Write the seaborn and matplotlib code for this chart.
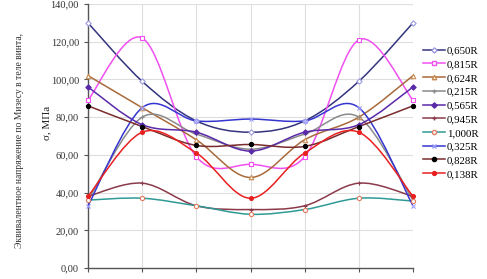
"""
Эквивалентное напряжение по Мизесу в теле винта по радиусам
"""

import numpy as np
import pandas as pd
import matplotlib
matplotlib.use('Agg')
import matplotlib.pyplot as plt
from matplotlib.path import Path
from matplotlib.patches import PathPatch
from matplotlib.lines import Line2D
from matplotlib.ticker import FuncFormatter
import seaborn as sns

# Данные (точки по оси X без подписей)
points = [1, 2, 3, 4, 5, 6, 7]
radii = ['0,650R', '0,815R', '0,624R', '0,215R', '0,565R',
         '0,945R', '1,000R', '0,325R', '0,828R', '0,138R']

s_0650 = [130, 99, 78, 72, 78, 99, 130]
s_0815 = [89, 122, 59, 55, 59, 121, 89]
s_0624 = [102, 85, 68, 48, 68, 80, 102]
s_0215 = [36, 80, 71, 63, 71, 80, 36]
s_0565 = [96, 76, 72, 62, 72, 76, 96]
s_0945 = [38, 45, 33, 31, 33, 45, 38]
s_1000 = [36, 37, 33, 28.5, 31, 37, 35.5]
s_0325 = [33, 85, 78, 79, 78, 85, 33]
s_0828 = [86, 75, 65, 65.5, 64.5, 75, 86]
s_0138 = [38, 72, 61, 37, 61, 72, 38]

values = [s_0650, s_0815, s_0624, s_0215, s_0565,
          s_0945, s_1000, s_0325, s_0828, s_0138]

df = pd.DataFrame({
    'x': points * len(radii),
    'sigma': np.concatenate(values),
    'radius': np.repeat(radii, len(points)),
})

# Стиль серий: цвет линии, маркер, заливка маркера, контур маркера, размер
styles = {
    '0,650R': ('#34347f', 'D', 'white', '#9a9ae0', 2.7),
    '0,815R': ('#f050f0', 's', 'white', '#f050f0', 3.0),
    '0,624R': ('#a86a3a', '^', 'white', '#c88a50', 3.2),
    '0,215R': ('#8a8a8a', '+', '#8a8a8a', '#8a8a8a', 3.2),
    '0,565R': ('#5a2aa8', 'D', '#5a2aa8', '#5a2aa8', 2.7),
    '0,945R': ('#8a3a4a', '+', '#8a3a4a', '#8a3a4a', 3.2),
    '1,000R': ('#2f9a96', 'o', 'white', '#e07a60', 3.0),
    '0,325R': ('#3535d0', 'x', '#9a9aff', '#9a9aff', 3.0),
    '0,828R': ('#7a2c2c', 'o', 'black', 'black', 3.0),
    '0,138R': ('#e82020', 'o', '#e82020', '#e82020', 2.8),
}

plt.rcParams['font.family'] = ['Liberation Serif', 'DejaVu Serif']


def smooth_path(xs, ys):
    # сглаженная линия как в Excel (кривые Безье через точки)
    pts = np.column_stack([xs, ys]).astype(float)
    n = len(pts)
    verts = [pts[0]]
    codes = [Path.MOVETO]
    for i in range(n - 1):
        p0 = pts[i - 1] if i > 0 else pts[i]
        p1 = pts[i]
        p2 = pts[i + 1]
        p3 = pts[i + 2] if i + 2 < n else pts[i + 1]
        verts += [p1 + (p2 - p0) / 6, p2 - (p3 - p1) / 6, p2]
        codes += [Path.CURVE4] * 3
    return Path(verts, codes)


fig = plt.figure(figsize=(4.87, 2.79), dpi=100)
ax = fig.add_axes([88 / 487, 11 / 279, 325 / 487, 264 / 279])
ax.set_facecolor('white')

handles = []
for r in radii:
    sub = df[df['radius'] == r]
    color, marker, face, edge, ms = styles[r]
    ax.add_patch(PathPatch(smooth_path(sub['x'], sub['sigma']), fill=False,
                           edgecolor=color, linewidth=1.1, zorder=3))
    sns.scatterplot(data=sub, x='x', y='sigma', ax=ax, marker=marker,
                    color=face, edgecolor=edge, linewidth=0.8,
                    s=ms ** 2, zorder=4, clip_on=False, legend=False)
    handles.append(Line2D([], [], color=color, linewidth=1.1, marker=marker,
                          markerfacecolor=face, markeredgecolor=edge,
                          markersize=ms))

ax.set_xlim(1, 7)
ax.set_ylim(0, 140)
ax.set_yticks(np.arange(0, 141, 20))
ax.set_xticks(points)
ax.set_xticklabels([])
ax.yaxis.set_major_formatter(FuncFormatter(lambda v, p: f'{v:.2f}'.replace('.', ',')))
ax.tick_params(axis='y', labelsize=7.5, length=3, colors='#555555', labelcolor='#333333')
ax.tick_params(axis='x', length=3, colors='#555555')
ax.grid(True, color='#dedede', linewidth=0.8)
ax.set_axisbelow(True)
ax.set_xlabel('')
ax.set_ylabel('')
for side in ['top', 'right']:
    ax.spines[side].set_visible(False)
for side in ['left', 'bottom']:
    ax.spines[side].set_color('#555555')
    ax.spines[side].set_linewidth(1.0)

fig.text(20 / 487, 0.495, 'Эквивалентное напряжение по Мизесу в теле винта,',
         rotation=90, ha='center', va='center', fontsize=6.9, color='#333333')
fig.text(47 / 487, 0.56, 'σ, МПа', rotation=90, ha='center', va='center',
         fontsize=8, color='#222222')

fig.legend(handles, radii, loc='upper left', bbox_to_anchor=(423 / 487, 1 - 46 / 279),
           frameon=False, fontsize=7.8, handlelength=2.0, handletextpad=0.2,
           labelspacing=0.38, borderaxespad=0, borderpad=0)

fig.savefig('out.png', dpi=100, facecolor='white')
